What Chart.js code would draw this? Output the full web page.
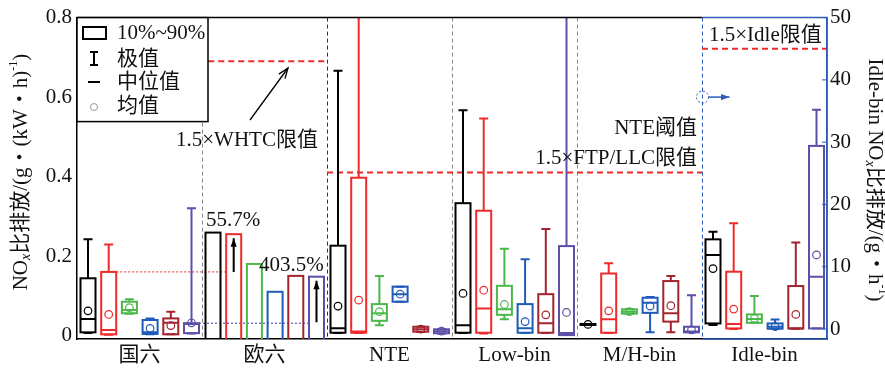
<!DOCTYPE html>
<html lang="zh">
<head>
  <meta charset="UTF-8">
  <title>NOx 比排放</title>
  <script src="https://cdn.jsdelivr.net/npm/chart.js"></script>
  <style>
    * { margin: 0; padding: 0; box-sizing: border-box; }
    body { background: #fff; }
    #wrap { width: 885px; height: 368px; }
  </style>
</head>
<body>
  <div id="wrap"><canvas id="noxChart" width="885" height="368"></canvas></div>

  <script>
    const categories = ['国六', '欧六', 'NTE', 'Low-bin', 'M/H-bin', 'Idle-bin'];
    const seriesColors = ['#000000', '#ee2a2a', '#4cb84a', '#1f5bb8', '#a3232f', '#5b4fa8'];

    // one row per group, 6 series each; Idle-bin row is g/h (right axis); 欧六 has bars only
    const maxVals = [
      [0.242, 0.229, 0.091, 0.043, 0.060, 0.320],
      null,
      [0.666, 1.2, 0.150, 0.123, 0.022, 0.016],
      [0.567, 0.546, 0.218, 0.192, 0.268, 1.2],
      [0.029, 0.182, 0.066, 0.097, 0.150, 0.101],
      [15.6, 17.0, 5.3, 1.55, 13.9, 35.2]
    ];
    const q90 = [
      [0.144, 0.160, 0.085, 0.039, 0.043, 0.031],
      null,
      [0.226, 0.397, 0.079, 0.123, 0.022, 0.0156],
      [0.333, 0.314, 0.125, 0.079, 0.104, 0.225],
      [0.029, 0.156, 0.066, 0.095, 0.137, 0.022],
      [14.4, 9.2, 2.35, 0.9, 6.9, 29.4]
    ];
    const medians = [
      [0.0415, 0.014, 0.064, 0.008, 0.032, 0.029],
      null,
      [0.018, 0.010, 0.056, 0.104, 0.016, 0.011],
      [0.026, 0.068, 0.066, 0.018, 0.031, 0.006],
      [0.028, 0.041, 0.060, 0.0825, 0.056, 0.010],
      [11.9, 0.8, 1.6, 0.37, 0.1, 8.4]
    ];
    const q10 = [
      [0.008, 0.003, 0.056, 0.004, 0.003, 0.006],
      null,
      [0.007, 0.007, 0.037, 0.085, 0.0096, 0.0055],
      [0.007, 0.007, 0.052, 0.007, 0.007, 0.001],
      [0.027, 0.007, 0.055, 0.057, 0.035, 0.008],
      [0.9, 0.1, 1.0, 0.05, 0.1, 0.1]
    ];
    const minVals = [
      [0.006, 0.002, 0.055, 0.003, 0.003, 0.005],
      null,
      [0.006, 0.006, 0.026, 0.085, 0.009, 0.005],
      [0.006, 0.005, 0.041, 0.006, 0.006, 0.001],
      [0.027, 0.006, 0.055, 0.008, 0.008, 0.008],
      [0.65, 0.0, 1.0, 0.05, 0.05, 0.1]
    ];
    const means = [
      [0.062, 0.053, 0.070, 0.018, 0.025, 0.032],
      null,
      [0.074, 0.089, 0.060, 0.104, 0.016, 0.011],
      [0.106, 0.114, 0.078, 0.035, 0.052, 0.058],
      [0.028, 0.062, 0.060, 0.074, 0.075, 0.014],
      [9.7, 3.2, 1.7, 0.4, 2.35, 11.9]
    ];
    const euroBars = [0.259, 0.255, 0.180, 0.110, 0.150, 0.148];

    const whtcLimit = 0.69;
    const nteLimit = 0.41;
    const idleLimit = 45;
    const refRed = 0.16;     // 国六 red 90%
    const refPurple = 0.031; // 国六 purple 90%
    const pctLabels = ['55.7%', '403.5%'];
    const leftTicks = [0, 0.2, 0.4, 0.6, 0.8];
    const rightTicks = [0, 10, 20, 30, 40, 50];

    const IDLE = 5;
    const SERIF = '"Liberation Serif", "Noto Sans CJK SC", serif';

    function posOf(g, j) {
      return g + 0.088 + j * 0.1656;
    }

    // mean markers as real datasets
    const datasets = [];
    seriesColors.forEach((c, j) => {
      const left = [];
      means.forEach((row, g) => {
        if (row && g !== IDLE) left.push({ x: posOf(g, j), y: row[j] });
      });
      datasets.push({ data: left, yAxisID: 'y', borderColor: c, backgroundColor: 'rgba(0,0,0,0)',
        pointRadius: 3.8, pointBorderWidth: 1.2, pointHoverRadius: 3.8 });
      datasets.push({ data: [{ x: posOf(IDLE, j), y: means[IDLE][j] }], yAxisID: 'y2', borderColor: c,
        backgroundColor: 'rgba(0,0,0,0)', pointRadius: 3.8, pointBorderWidth: 1.2, pointHoverRadius: 3.8 });
    });

    function arrow(ctx, x1, y1, x2, y2, head, filled) {
      const a = Math.atan2(y2 - y1, x2 - x1);
      ctx.beginPath();
      ctx.moveTo(x1, y1);
      ctx.lineTo(x2, y2);
      ctx.stroke();
      ctx.beginPath();
      ctx.moveTo(x2 - head * Math.cos(a - 0.35), y2 - head * Math.sin(a - 0.35));
      ctx.lineTo(x2, y2);
      ctx.lineTo(x2 - head * Math.cos(a + 0.35), y2 - head * Math.sin(a + 0.35));
      if (filled) { ctx.closePath(); ctx.fill(); } else { ctx.stroke(); }
    }

    // text made of pieces (subscripts / superscripts), centred on (cx, cy) and rotated
    function richText(ctx, parts, cx, cy, angle) {
      ctx.save();
      ctx.translate(cx, cy);
      ctx.rotate(angle);
      ctx.textBaseline = 'middle';
      ctx.textAlign = 'left';
      let total = 0;
      parts.forEach(p => { ctx.font = p.font; total += ctx.measureText(p.t).width; });
      let x = -total / 2;
      parts.forEach(p => {
        ctx.font = p.font;
        ctx.fillText(p.t, x, p.dy || 0);
        x += ctx.measureText(p.t).width;
      });
      ctx.restore();
    }

    const boxPlugin = {
      id: 'boxPlugin',
      beforeDatasetsDraw(chart) {
        const { ctx, chartArea: ca, scales } = chart;
        const xs = scales.x, yl = scales.y, yr = scales.y2;
        const half = xs.getPixelForValue(0.06) - xs.getPixelForValue(0);
        const cap = 4.5;
        ctx.save();
        ctx.beginPath();
        ctx.rect(ca.left, ca.top, ca.right - ca.left, ca.bottom - ca.top);
        ctx.clip();

        // group dividers
        const divColors = ['#888', '#333', '#888', '#888', '#2b5cb8'];
        ctx.lineWidth = 1;
        ctx.setLineDash([4, 3]);
        divColors.forEach((c, k) => {
          const px = Math.round(xs.getPixelForValue(k + 1)) + 0.5;
          ctx.strokeStyle = c;
          ctx.beginPath();
          ctx.moveTo(px, ca.top);
          ctx.lineTo(px, ca.bottom);
          ctx.stroke();
        });

        // limit lines
        ctx.strokeStyle = '#ee2a2a';
        ctx.lineWidth = 2;
        ctx.setLineDash([6, 4]);
        const hline = (x1, x2, py) => {
          ctx.beginPath();
          ctx.moveTo(xs.getPixelForValue(x1), py);
          ctx.lineTo(xs.getPixelForValue(x2), py);
          ctx.stroke();
        };
        hline(1.05, 2, yl.getPixelForValue(whtcLimit));
        hline(2, 5, yl.getPixelForValue(nteLimit));
        hline(5, 6, yr.getPixelForValue(idleLimit));

        // dotted reference lines
        ctx.lineWidth = 1;
        ctx.setLineDash([2, 2]);
        ctx.strokeStyle = '#ee2a2a';
        hline(posOf(0, 1) + 0.06, posOf(1, 1) - 0.06, yl.getPixelForValue(refRed));
        ctx.strokeStyle = '#3a3aa8';
        hline(posOf(0, 5) + 0.06, posOf(1, 5) - 0.06, yl.getPixelForValue(refPurple));
        ctx.setLineDash([]);

        // 欧六 bars
        ctx.lineWidth = 2;
        euroBars.forEach((v, j) => {
          const cx = xs.getPixelForValue(posOf(1, j));
          const top = yl.getPixelForValue(v);
          ctx.strokeStyle = seriesColors[j];
          ctx.strokeRect(cx - half, top, half * 2, ca.bottom + 3 - top);
        });

        // box plots
        maxVals.forEach((row, g) => {
          if (!row) return;
          const ys = g === IDLE ? yr : yl;
          row.forEach((mx, j) => {
            const cx = xs.getPixelForValue(posOf(g, j));
            const pMax = ys.getPixelForValue(mx);
            const pMin = ys.getPixelForValue(minVals[g][j]);
            const pHi = ys.getPixelForValue(q90[g][j]);
            const pLo = ys.getPixelForValue(q10[g][j]);
            const pMed = ys.getPixelForValue(medians[g][j]);
            ctx.strokeStyle = seriesColors[j];
            ctx.lineWidth = 2;
            ctx.beginPath();
            ctx.moveTo(cx, pMax); ctx.lineTo(cx, pHi);
            ctx.moveTo(cx - cap, pMax); ctx.lineTo(cx + cap, pMax);
            ctx.moveTo(cx, pLo); ctx.lineTo(cx, pMin);
            ctx.moveTo(cx - cap, pMin); ctx.lineTo(cx + cap, pMin);
            ctx.stroke();
            ctx.strokeRect(cx - half, pHi, half * 2, Math.max(pLo - pHi, 1));
            ctx.beginPath();
            ctx.moveTo(cx - half, pMed); ctx.lineTo(cx + half, pMed);
            ctx.stroke();
          });
        });

        // growth arrows in 欧六
        ctx.strokeStyle = '#000';
        ctx.fillStyle = '#000';
        ctx.lineWidth = 2;
        const ax1 = xs.getPixelForValue(posOf(1, 1));
        arrow(ctx, ax1, yl.getPixelForValue(refRed), ax1, yl.getPixelForValue(euroBars[1]) + 4, 9, true);
        const ax5 = xs.getPixelForValue(posOf(1, 5));
        arrow(ctx, ax5, yl.getPixelForValue(refPurple) - 1, ax5, yl.getPixelForValue(euroBars[5]) + 4, 9, true);
        ctx.restore();
      },
      afterDraw(chart) {
        const { ctx, chartArea: ca, scales } = chart;
        const xs = scales.x, yl = scales.y, yr = scales.y2;
        const xIdle = Math.round(xs.getPixelForValue(IDLE)) + 0.5;
        ctx.save();

        // frame: black on the left part, blue round Idle-bin
        ctx.lineWidth = 1.5;
        ctx.strokeStyle = '#000';
        ctx.beginPath();
        ctx.moveTo(ca.left, ca.top); ctx.lineTo(xIdle, ca.top);
        ctx.stroke();
        ctx.strokeStyle = '#2b5cb8';
        ctx.beginPath();
        ctx.moveTo(xIdle, ca.top); ctx.lineTo(ca.right, ca.top); ctx.lineTo(ca.right, ca.bottom); ctx.lineTo(xIdle, ca.bottom);
        ctx.stroke();
        ctx.lineWidth = 1;
        rightTicks.forEach(t => {
          const py = yr.getPixelForValue(t);
          ctx.beginPath();
          ctx.moveTo(ca.right - 5, py); ctx.lineTo(ca.right, py);
          ctx.stroke();
        });

        // right-axis marker: dotted circle and arrow
        const cy = yl.getPixelForValue(0.6);
        ctx.setLineDash([2, 2]);
        ctx.beginPath();
        ctx.arc(xIdle, cy, 6, 0, Math.PI * 2);
        ctx.stroke();
        ctx.setLineDash([]);
        ctx.fillStyle = '#2b5cb8';
        ctx.lineWidth = 1.5;
        arrow(ctx, xIdle + 6, cy, xIdle + 27, cy, 9, true);

        // annotations
        ctx.fillStyle = '#111';
        ctx.font = '21px ' + SERIF;
        ctx.textBaseline = 'middle';
        ctx.textAlign = 'left';
        ctx.fillText('1.5×WHTC限值', 176, 140);
        ctx.fillText(pctLabels[0], 206, 220);
        ctx.fillText(pctLabels[1], 259, 265);
        ctx.fillText('1.5×Idle限值', 709, 35);
        ctx.textAlign = 'right';
        ctx.fillText('NTE阈值', 697, 128);
        ctx.fillText('1.5×FTP/LLC限值', 697, 158);
        ctx.strokeStyle = '#000';
        ctx.fillStyle = '#000';
        ctx.lineWidth = 1.3;
        arrow(ctx, 250, 120, 288, 68, 11, false);

        // legend
        ctx.fillStyle = '#fff';
        ctx.fillRect(ca.left, ca.top, 131, 104);
        ctx.strokeStyle = '#000';
        ctx.lineWidth = 1.5;
        ctx.strokeRect(ca.left, ca.top, 131, 104);
        ctx.lineWidth = 2;
        ctx.strokeRect(83, 27, 23, 12);
        ctx.beginPath();
        ctx.moveTo(94, 52); ctx.lineTo(94, 65);
        ctx.moveTo(90, 52); ctx.lineTo(98, 52);
        ctx.moveTo(90, 65); ctx.lineTo(98, 65);
        ctx.moveTo(88, 82); ctx.lineTo(100, 82);
        ctx.stroke();
        ctx.strokeStyle = '#999';
        ctx.lineWidth = 1;
        ctx.beginPath();
        ctx.arc(94, 107, 3.5, 0, Math.PI * 2);
        ctx.stroke();
        ctx.fillStyle = '#111';
        ctx.textAlign = 'left';
        ctx.fillText('10%~90%', 117, 33);
        ctx.fillText('极值', 117, 59);
        ctx.fillText('中位值', 117, 82);
        ctx.fillText('均值', 117, 106);

        // axis titles
        const big = '21px ' + SERIF;
        const sub = 'italic 14px "Liberation Serif", serif';
        const sup = '12px "Liberation Serif", serif';
        richText(ctx, [
          { t: 'NO', font: big }, { t: 'x', font: sub, dy: 5 },
          { t: '比排放/(g・(kW・h)', font: big }, { t: '-1', font: sup, dy: -7 }, { t: ')', font: big }
        ], 21, 172, -Math.PI / 2);
        richText(ctx, [
          { t: 'Idle-bin NO', font: big }, { t: 'x', font: sub, dy: 5 },
          { t: '比排放/(g・h', font: big }, { t: '-1', font: sup, dy: -7 }, { t: ')', font: big }
        ], 875, 180, Math.PI / 2);
        ctx.restore();
      }
    };

    const tickFont = { family: SERIF, size: 21 };

    new Chart(document.getElementById('noxChart'), {
      type: 'scatter',
      data: { datasets },
      options: {
        responsive: false,
        animation: false,
        devicePixelRatio: 1,
        layout: { padding: { top: 17, left: 0, right: 0, bottom: 0 } },
        plugins: { legend: { display: false }, tooltip: { enabled: false } },
        scales: {
          x: {
            type: 'linear', min: 0, max: 6,
            grid: { display: false, drawTicks: false },
            border: { color: '#000', width: 1.5 },
            afterBuildTicks: s => { s.ticks = categories.map((c, i) => ({ value: i + 0.5 })); },
            afterFit: s => { s.height = 29; },
            ticks: {
              font: tickFont, color: '#111', padding: 4, maxRotation: 0, autoSkip: false,
              callback: (v) => categories[Math.floor(v)]
            }
          },
          y: {
            position: 'left', min: -0.0088, max: 0.8,
            grid: { display: false, drawTicks: false },
            border: { color: '#000', width: 1.5 },
            afterBuildTicks: s => { s.ticks = leftTicks.map(v => ({ value: v })); },
            afterFit: s => { s.width = 77; },
            ticks: { font: tickFont, color: '#111', padding: 5, callback: v => String(v) }
          },
          y2: {
            position: 'right', min: -1.6, max: 50,
            grid: { display: false, drawTicks: false },
            border: { color: '#2b5cb8', width: 1.5 },
            afterBuildTicks: s => { s.ticks = rightTicks.map(v => ({ value: v })); },
            afterFit: s => { s.width = 58; },
            ticks: { font: tickFont, color: '#111', padding: 3, callback: v => String(v) }
          }
        }
      },
      plugins: [boxPlugin]
    });
  </script>
</body>
</html>
